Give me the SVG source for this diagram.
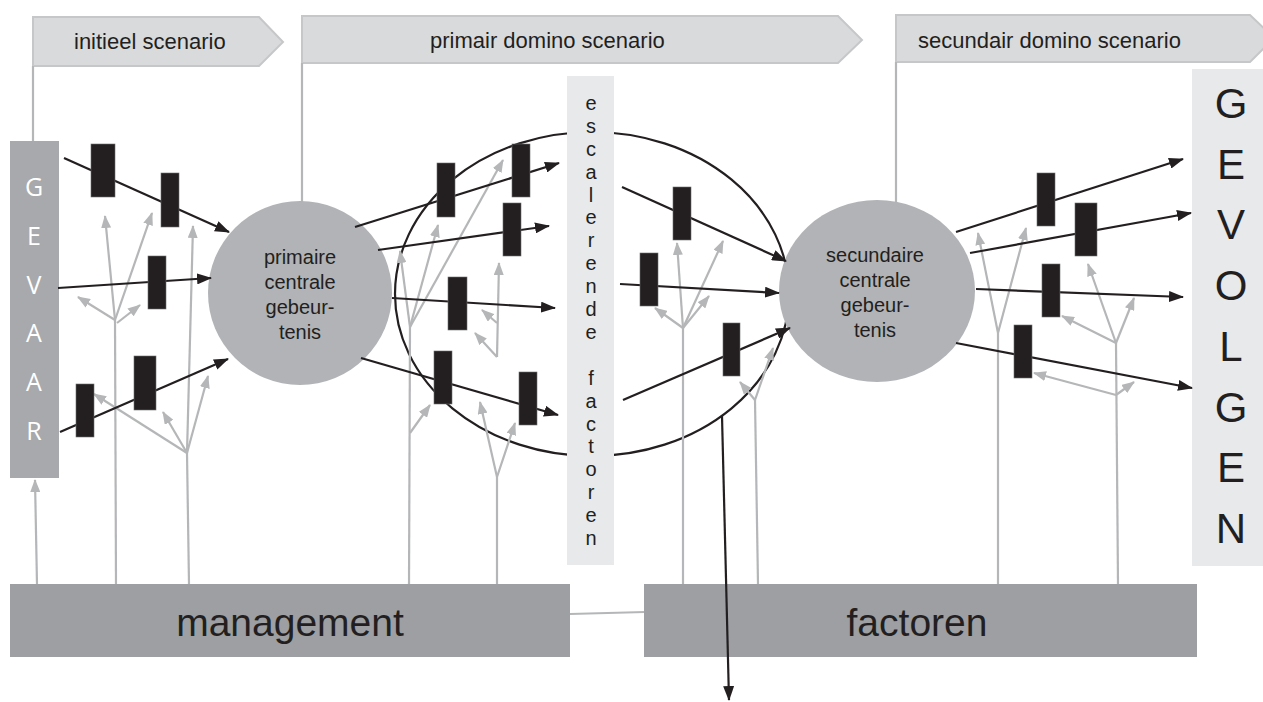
<svg xmlns="http://www.w3.org/2000/svg" width="1263" height="702" viewBox="0 0 1263 702">
<style>
.ban{fill:#d9dadc;stroke:#c6c7c9;stroke-width:2}
.bt{font-family:"Liberation Sans",Arial,sans-serif;font-size:22px;fill:#231f20}
.g{stroke:#b5b6b8;stroke-width:2.2;fill:none}
.ga{stroke:#b5b6b8;stroke-width:2.2;fill:none;marker-end:url(#mg)}
.k{stroke:#231f20;stroke-width:2.2;fill:none;marker-end:url(#mk)}
.blk{fill:#231f20;stroke:#6d6e71;stroke-width:0.6}
.circ{fill:#b1b3b6}
.ct{font-family:"Liberation Sans",Arial,sans-serif;font-size:20px;fill:#231f20;text-anchor:middle}
.big{font-family:"Liberation Sans",Arial,sans-serif;font-size:39px;fill:#231f20;text-anchor:middle}
.mg{fill:#9d9fa2}
.lt{fill:#e8e9ea}
.gv{font-family:"Open Sans","Liberation Sans",sans-serif;font-size:25px;fill:#ffffff;text-anchor:middle}
.gl{font-family:"Liberation Sans",Arial,sans-serif;font-size:42px;fill:#231f20;text-anchor:middle}
.es{font-family:"Liberation Sans",Arial,sans-serif;font-size:20px;fill:#231f20;text-anchor:middle}
</style>
<defs>
<marker id="mk" viewBox="0 0 15 11" refX="14" refY="5.5" markerWidth="15" markerHeight="11" orient="auto" markerUnits="userSpaceOnUse"><path d="M0,0 L15,5.5 L0,11 z" fill="#231f20"/></marker>
<marker id="mg" viewBox="0 0 13 10" refX="12" refY="5" markerWidth="13" markerHeight="10" orient="auto" markerUnits="userSpaceOnUse"><path d="M0,0 L13,5 L0,10 z" fill="#b5b6b8"/></marker>
</defs>
<rect width="1263" height="702" fill="#ffffff"/>

<g id="banner-initieel">
<polygon class="ban" points="33,17 259,17 283,42 259,66 33,66"/>
<text class="bt" x="74" y="49">initieel scenario</text>
</g>
<g id="banner-primair">
<polygon class="ban" points="302,16 838,16 862,40 838,63 302,63"/>
<text class="bt" x="430" y="48">primair domino scenario</text>
</g>
<g id="banner-secundair">
<polygon class="ban" points="896,15 1250,15 1274,38 1250,62 896,62"/>
<text class="bt" x="918" y="48">secundair domino scenario</text>
</g>

<g id="connectors-frame">
<line class="g" x1="33" y1="66" x2="33" y2="141"/>
<line class="g" x1="302" y1="63" x2="302" y2="203"/>
<line class="g" x1="896" y1="62" x2="896" y2="203"/>
<line class="g" x1="570" y1="614" x2="645" y2="612"/>
</g>

<g id="escalation-ellipse">
<ellipse cx="592" cy="294" rx="197" ry="162" fill="none" stroke="#231f20" stroke-width="2.2"/>
</g>

<g id="gevaar">
<rect x="10" y="141" width="49" height="337" fill="#a7a9ac"/>
<text class="gv" x="34" y="196">G</text>
<text class="gv" x="34" y="245">E</text>
<text class="gv" x="34" y="294">V</text>
<text class="gv" x="34" y="342">A</text>
<text class="gv" x="34" y="391">A</text>
<text class="gv" x="34" y="440">R</text>
</g>

<g id="escalerende-factoren">
<rect class="lt" x="567" y="76" width="47" height="489"/>
<text class="es"><tspan x="591" y="110">e</tspan><tspan x="591" y="133">s</tspan><tspan x="591" y="156">c</tspan><tspan x="591" y="179">a</tspan><tspan x="591" y="202">l</tspan><tspan x="591" y="224">e</tspan><tspan x="591" y="247">r</tspan><tspan x="591" y="270">e</tspan><tspan x="591" y="293">n</tspan><tspan x="591" y="316">d</tspan><tspan x="591" y="339">e</tspan><tspan x="591" y="385">f</tspan><tspan x="591" y="408">a</tspan><tspan x="591" y="431">c</tspan><tspan x="591" y="453">t</tspan><tspan x="591" y="476">o</tspan><tspan x="591" y="499">r</tspan><tspan x="591" y="522">e</tspan><tspan x="591" y="545">n</tspan></text>
</g>

<g id="gevolgen">
<rect class="lt" x="1192" y="69" width="71" height="497"/>
<text class="gl" x="1231" y="118">G</text>
<text class="gl" x="1231" y="179">E</text>
<text class="gl" x="1231" y="239">V</text>
<text class="gl" x="1231" y="300">O</text>
<text class="gl" x="1231" y="361">L</text>
<text class="gl" x="1231" y="422">G</text>
<text class="gl" x="1231" y="482">E</text>
<text class="gl" x="1231" y="543">N</text>
</g>

<g id="primaire-gebeurtenis">
<circle class="circ" cx="300" cy="293" r="92"/>
<text class="ct"><tspan x="300" y="264">primaire</tspan><tspan x="300" y="289">centrale</tspan><tspan x="300" y="314">gebeur-</tspan><tspan x="300" y="339">tenis</tspan></text>
</g>

<g id="secundaire-gebeurtenis">
<ellipse class="circ" cx="877" cy="291" rx="98" ry="91"/>
<text class="ct"><tspan x="875" y="262">secundaire</tspan><tspan x="875" y="287">centrale</tspan><tspan x="875" y="312">gebeur-</tspan><tspan x="875" y="337">tenis</tspan></text>
</g>

<g id="management">
<rect class="mg" x="10" y="584" width="560" height="73"/>
<text class="big" x="290" y="636">management</text>
</g>
<g id="factoren">
<rect class="mg" x="644" y="584" width="553" height="73"/>
<text class="big" x="917" y="636">factoren</text>
</g>

<g id="connectors">
<!-- gray management trees -->
<line class="ga" x1="37" y1="584" x2="35" y2="480"/>
<line class="g" x1="116" y1="584" x2="115" y2="320"/>
<line class="ga" x1="115" y1="320" x2="105" y2="216"/>
<line class="ga" x1="115" y1="320" x2="152" y2="213"/>
<line class="ga" x1="115" y1="320" x2="78" y2="297"/>
<line class="ga" x1="117" y1="323" x2="140" y2="305"/>
<line class="g" x1="189" y1="584" x2="187" y2="453"/>
<line class="ga" x1="187" y1="453" x2="193" y2="226"/>
<line class="ga" x1="187" y1="453" x2="94" y2="394"/>
<line class="ga" x1="187" y1="453" x2="163" y2="412"/>
<line class="ga" x1="187" y1="453" x2="208" y2="376"/>

<line class="g" x1="409" y1="584" x2="410" y2="327"/>
<line class="ga" x1="410" y1="327" x2="400" y2="251"/>
<line class="ga" x1="410" y1="327" x2="438" y2="225"/>
<line class="ga" x1="410" y1="327" x2="503" y2="160"/>
<line class="ga" x1="410" y1="433" x2="430" y2="405"/>
<line class="g" x1="497" y1="584" x2="497" y2="477"/>
<line class="ga" x1="497" y1="477" x2="480" y2="402"/>
<line class="ga" x1="497" y1="477" x2="515" y2="423"/>
<line class="ga" x1="497" y1="357" x2="499" y2="263"/>
<line class="ga" x1="497" y1="357" x2="475" y2="333"/>
<line class="ga" x1="497" y1="323" x2="482" y2="310"/>

<line class="g" x1="683" y1="584" x2="683" y2="328"/>
<line class="ga" x1="683" y1="328" x2="677" y2="243"/>
<line class="ga" x1="683" y1="328" x2="723" y2="241"/>
<line class="ga" x1="683" y1="328" x2="709" y2="296"/>
<line class="ga" x1="683" y1="328" x2="655" y2="308"/>
<line class="g" x1="758" y1="584" x2="755" y2="400"/>
<line class="ga" x1="755" y1="400" x2="740" y2="382"/>
<line class="ga" x1="755" y1="400" x2="773" y2="348"/>

<line class="g" x1="998" y1="584" x2="998" y2="333"/>
<line class="ga" x1="998" y1="333" x2="978" y2="233"/>
<line class="ga" x1="998" y1="333" x2="1026" y2="228"/>
<line class="g" x1="1118" y1="584" x2="1116" y2="343"/>
<line class="ga" x1="1116" y1="343" x2="1088" y2="264"/>
<line class="ga" x1="1116" y1="343" x2="1134" y2="298"/>
<line class="ga" x1="1116" y1="343" x2="1062" y2="316"/>
<line class="ga" x1="1116" y1="395" x2="1034" y2="373"/>
<line class="ga" x1="1116" y1="395" x2="1134" y2="382"/>

<!-- black scenario arrows -->
<line class="k" x1="64" y1="158" x2="229" y2="232"/>
<line class="k" x1="58" y1="288" x2="211" y2="278"/>
<line class="k" x1="60" y1="432" x2="228" y2="359"/>
<line class="k" x1="355" y1="227" x2="559" y2="163"/>
<line class="k" x1="378" y1="250" x2="549" y2="226"/>
<line class="k" x1="392" y1="298" x2="555" y2="308"/>
<line class="k" x1="361" y1="358" x2="558" y2="415"/>
<line class="k" x1="622" y1="187" x2="786" y2="261"/>
<line class="k" x1="620" y1="284" x2="779" y2="293"/>
<line class="k" x1="623" y1="400" x2="790" y2="328"/>
<line class="k" x1="956" y1="232" x2="1183" y2="159"/>
<line class="k" x1="970" y1="253" x2="1191" y2="213"/>
<line class="k" x1="976" y1="289" x2="1183" y2="297"/>
<line class="k" x1="956" y1="343" x2="1192" y2="388"/>
<line class="k" x1="722" y1="416" x2="729" y2="700"/>
</g>

<g id="barriers">
<rect class="blk" x="91" y="144" width="24" height="53"/>
<rect class="blk" x="161" y="173" width="18" height="54"/>
<rect class="blk" x="148" y="256" width="18" height="53"/>
<rect class="blk" x="76" y="384" width="18" height="53"/>
<rect class="blk" x="134" y="356" width="22" height="54"/>
<rect class="blk" x="437" y="163" width="18" height="54"/>
<rect class="blk" x="512" y="144" width="18" height="53"/>
<rect class="blk" x="503" y="203" width="18" height="53"/>
<rect class="blk" x="448" y="277" width="19" height="53"/>
<rect class="blk" x="434" y="351" width="18" height="53"/>
<rect class="blk" x="519" y="372" width="18" height="53"/>
<rect class="blk" x="673" y="187" width="18" height="53"/>
<rect class="blk" x="640" y="253" width="18" height="53"/>
<rect class="blk" x="723" y="323" width="17" height="53"/>
<rect class="blk" x="1037" y="173" width="18" height="53"/>
<rect class="blk" x="1075" y="203" width="22" height="53"/>
<rect class="blk" x="1042" y="264" width="18" height="53"/>
<rect class="blk" x="1014" y="325" width="18" height="53"/>
</g>
</svg>
